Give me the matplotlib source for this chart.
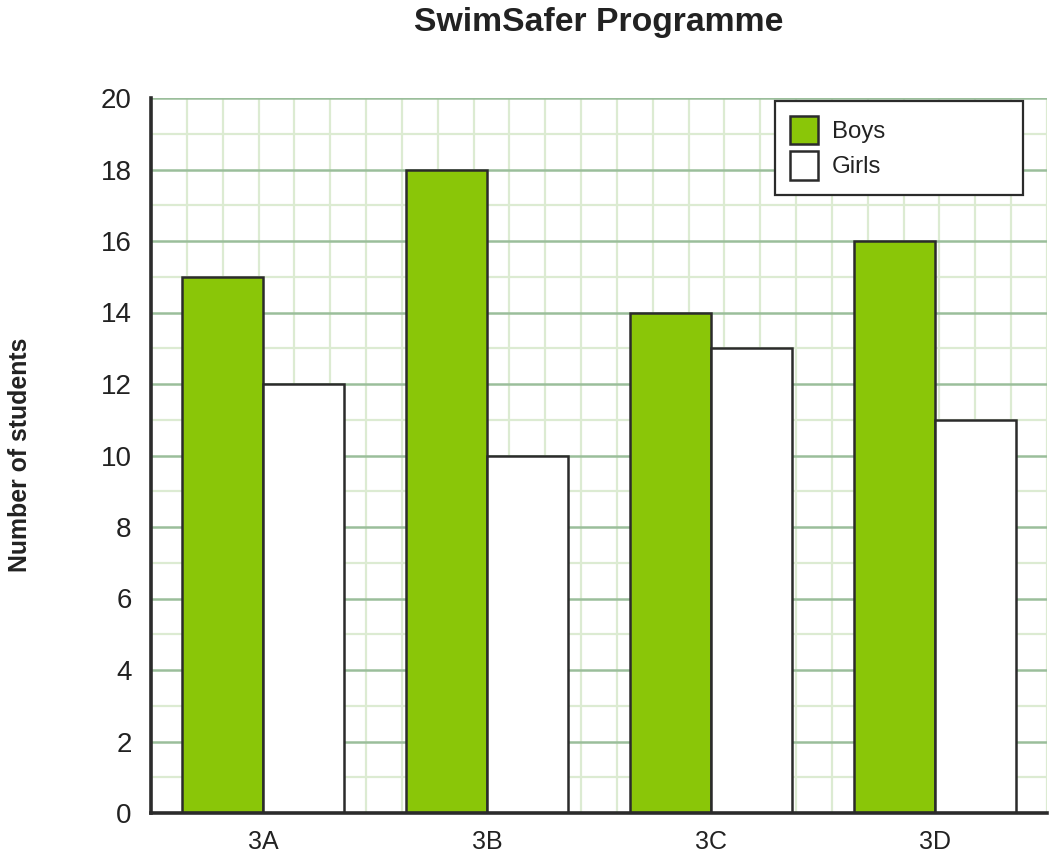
import matplotlib
matplotlib.use("Agg")
import matplotlib.pyplot as plt
import numpy as np

categories = ["3A", "3B", "3C", "3D"]
boys = [15, 18, 14, 16]
girls = [12, 10, 13, 11]
series_names = ["Boys", "Girls"]
y_ticks = [0, 2, 4, 6, 8, 10, 12, 14, 16, 18, 20]

plt.rcParams['font.family'] = ['Liberation Sans', 'DejaVu Sans']

fig = plt.figure(figsize=(10.55, 8.61), dpi=100)
ax = fig.add_axes([151/1055, 1-813/861, 896/1055, 715/861])

edge = "#2b2b2b"
green = "#8AC608"
x = np.arange(len(categories)) + 0.5
bw = 0.36

ax.bar(x - bw/2, boys, width=bw, color=green, edgecolor=edge, linewidth=1.8, zorder=3, label=series_names[0])
ax.bar(x + bw/2, girls, width=bw, color="white", edgecolor=edge, linewidth=1.8, zorder=3, label=series_names[1])

ax.set_xlim(0, len(categories))
ax.set_ylim(0, 20)

# grid
ax.set_yticks(y_ticks)
ax.set_yticks(np.arange(0, 21, 1), minor=True)
ax.set_xticks(x)
ax.set_xticklabels(categories)
ax.set_xticks(np.linspace(0, len(categories), 26), minor=True)
ax.grid(which="minor", axis="both", color="#DCEBD2", linewidth=1.6, zorder=0)
ax.grid(which="major", axis="y", color="#9BBE9B", linewidth=1.8, zorder=1)
ax.set_axisbelow(True)

ax.tick_params(axis="both", which="both", length=0)
ax.tick_params(axis="y", labelsize=20, colors="#222222", pad=14)
ax.tick_params(axis="x", labelsize=18, colors="#222222", pad=12)

for s in ["top", "right"]:
    ax.spines[s].set_visible(False)
for s in ["left", "bottom"]:
    ax.spines[s].set_color(edge)
    ax.spines[s].set_linewidth(2.6)
    ax.spines[s].set_zorder(4)

fig.text(599/1055, 1-22/861, "SwimSafer Programme", ha="center", va="center",
         fontsize=24.3, fontweight="bold", color="#222222")
fig.text(20/1055, 1-455/861, "Number of students", ha="center", va="center",
         rotation=90, fontsize=17.9, fontweight="bold", color="#222222")

leg = ax.legend(loc="upper left", bbox_to_anchor=(0.696, 0.8685, 0.277, 0.1273),
                mode="expand", fontsize=17.3, frameon=True, fancybox=False,
                framealpha=1.0,
                handlelength=1.2, handleheight=1.45, handletextpad=0.55,
                labelspacing=0.28, borderpad=0.62, borderaxespad=0)
leg.get_frame().set_edgecolor(edge)
leg.get_frame().set_linewidth(1.6)
leg.set_zorder(5)
for t in leg.get_texts():
    t.set_color("#222222")

fig.savefig("out.png", dpi=100)
